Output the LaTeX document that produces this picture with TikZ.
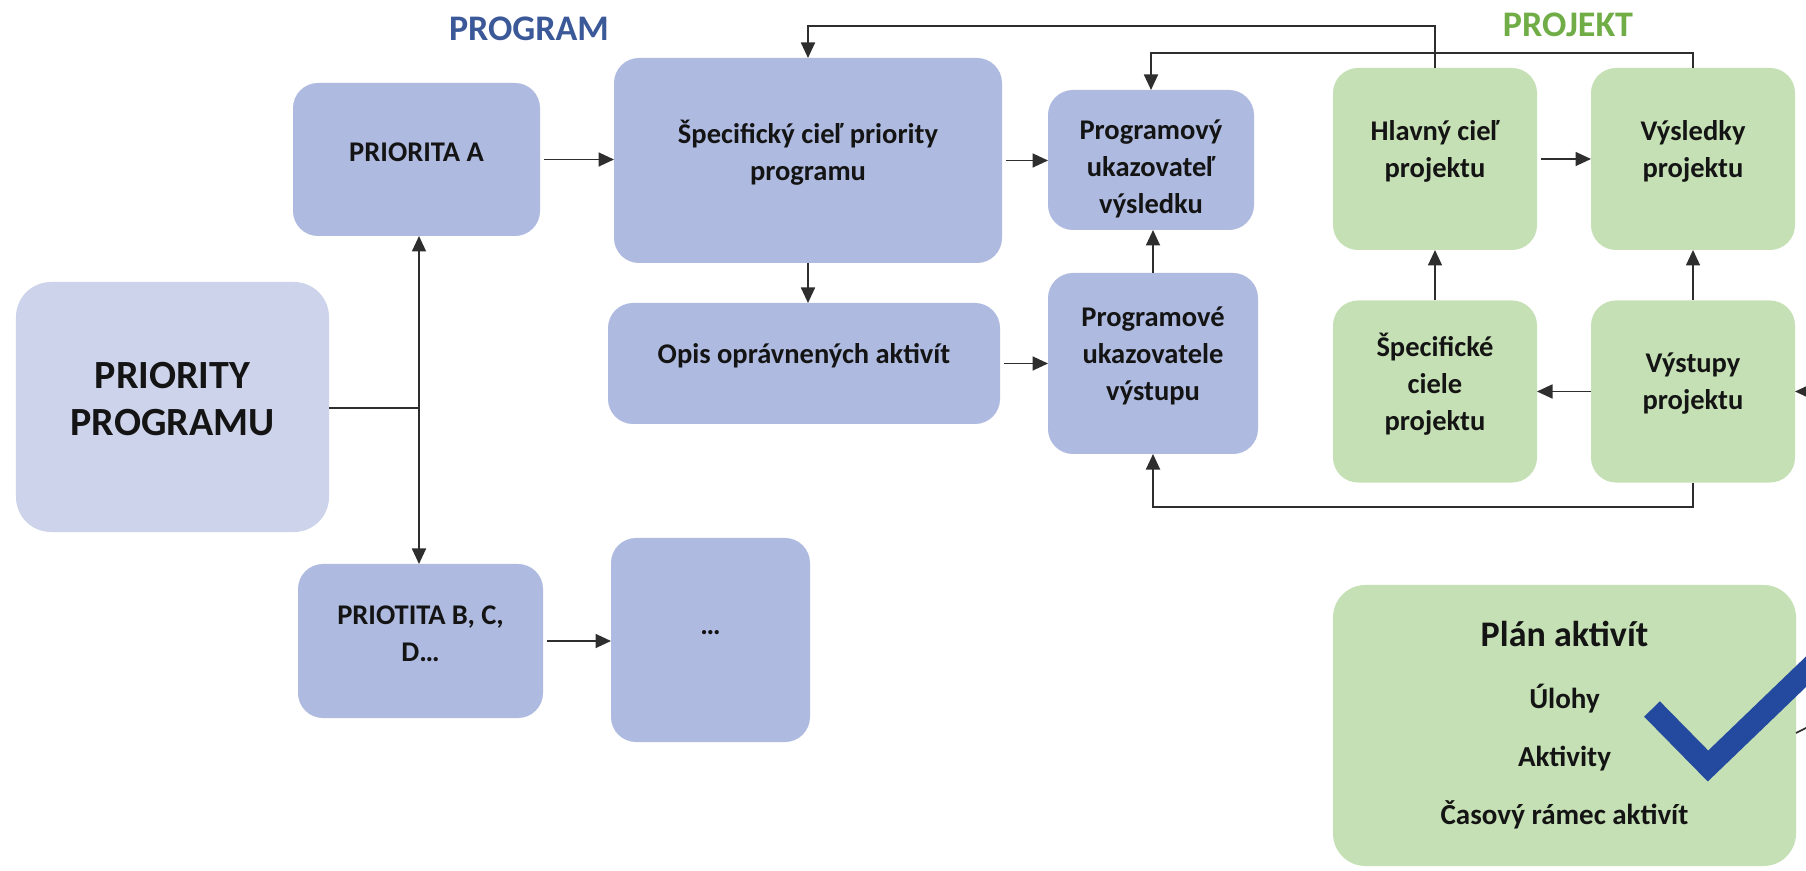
\documentclass[tikz,border=0pt]{standalone}
\usepackage{fontspec}
\setmainfont{Carlito}
\usetikzlibrary{arrows.meta}
\definecolor{pblue}{HTML}{AEBADF}
\definecolor{plight}{HTML}{CDD3EA}
\definecolor{pgreen}{HTML}{C5E0B4}
\definecolor{progc}{HTML}{3B5998}
\definecolor{projc}{HTML}{70AD47}
\definecolor{checkc}{HTML}{234A9F}
\definecolor{linec}{HTML}{2E2E2E}
\definecolor{txtc}{HTML}{141414}
\begin{document}
\begin{tikzpicture}[x=0.4pt,y=-0.4pt,
  box/.style={draw=none, rounded corners=10pt, inner sep=0pt, outer sep=0pt},
  bluebox/.style={box, fill=pblue},
  greenbox/.style={box, fill=pgreen, minimum width=81.6pt, minimum height=72.8pt},
  tx/.style={font=\bfseries\fontsize{11.4}{14.8}\selectfont, text=txtc, align=center, yshift=3pt},
  conn/.style={draw=linec, line width=0.7pt},
  arr/.style={conn, -{Triangle[length=6.2pt,width=5.6pt]}},
  head/.style={font=\bfseries\fontsize{14.4}{17}\selectfont}
]
\useasboundingbox (0,0) rectangle (1806,871);
\clip (0,0) rectangle (1806,871);
\fill[white] (0,0) rectangle (1806,871);

% headings
\node[head, text=progc] (lprog) at (529,29) {PROGRAM};
\node[head, text=projc] (lproj) at (1568,25) {PROJEKT};

% program boxes
\node[box, fill=plight, rounded corners=14pt, minimum width=125.2pt, minimum height=100pt,
  label={[tx, font=\bfseries\fontsize{16}{18.8}\selectfont]center:{PRIORITY\\PROGRAMU}}] (prio) at (172.5,407) {};
\node[bluebox, minimum width=98.8pt, minimum height=61.2pt,
  label={[tx]center:{PRIORITA A}}] (pa) at (416.5,159.5) {};
\node[bluebox, minimum width=98pt, minimum height=61.6pt,
  label={[tx]center:{PRIOTITA B, C,\\D…}}] (pbcd) at (420.5,641) {};
\node[bluebox, minimum width=79.6pt, minimum height=81.6pt,
  label={[tx]center:{…}}] (dots) at (710.5,640) {};
\node[bluebox, minimum width=155.2pt, minimum height=82pt,
  label={[tx]center:{Špecifický cieľ priority\\programu}}] (sc) at (808,160.5) {};
\node[bluebox, minimum width=156.8pt, minimum height=48.4pt,
  label={[tx]center:{Opis oprávnených aktivít}}] (opis) at (804,363.5) {};
\node[bluebox, minimum width=82.4pt, minimum height=56pt,
  label={[tx, yshift=-6.4pt]center:{Programový\\ukazovateľ\\výsledku}}] (puv) at (1151,160) {};
\node[bluebox, minimum width=84pt, minimum height=72.4pt,
  label={[tx]center:{Programové\\ukazovatele\\výstupu}}] (puo) at (1153,363.5) {};

% project boxes
\node[greenbox, label={[tx]center:{Hlavný cieľ\\projektu}}] (hc) at (1435,159) {};
\node[greenbox, label={[tx]center:{Výsledky\\projektu}}] (vysl) at (1693,159) {};
\node[greenbox, label={[tx]center:{Špecifické\\ciele\\projektu}}] (spc) at (1435,391.5) {};
\node[greenbox, label={[tx]center:{Výstupy\\projektu}}] (vyst) at (1693,391.5) {};
\node[greenbox, rounded corners=13pt, minimum width=185.2pt, minimum height=112.4pt,
  label={[tx, yshift=-3pt, font=\bfseries\fontsize{11.6}{23.2}\selectfont]center:{{\fontsize{14.4}{17}\selectfont Plán aktivít}\\[1.6pt]Úlohy\\Aktivity\\Časový rámec aktivít}}] (plan) at (1564.5,725.5) {};

% helper coordinates
\coordinate (j) at (419,408);
\coordinate (ybot) at (0,507);
\coordinate (ytop1) at (0,26);
\coordinate (ytop2) at (0,53);
\coordinate (offv) at (1840,391.5);
\coordinate (offp) at (1830,716);
\coordinate (ystub) at (0,733);

% connectors
\draw[conn] (j -| prio.east) -- (j);
\draw[arr] (j) -- (j |- pa.south);
\draw[arr] (j) -- (j |- pbcd.north);
\draw[arr, shorten <=1.5pt] (pa.east) -- (pa.east -| sc.west);
\draw[arr, shorten <=1.5pt] (pbcd.east) -- (pbcd.east -| dots.west);
\draw[arr, shorten <=1.5pt] (sc.east) -- (sc.east -| puv.west);
\draw[arr] (sc.south) -- (sc.south |- opis.north);
\draw[arr, shorten <=1.5pt] (opis.east) -- (opis.east -| puo.west);
\draw[arr] (puo.north) -- (puo.north |- puv.south);
\draw[arr, shorten <=1.5pt] (hc.east) -- (vysl.west);
\draw[arr] (spc.north) -- (hc.south);
\draw[arr] (vyst.north) -- (vysl.south);
\draw[arr] (vyst.west) -- (spc.east);
\draw[arr] (offv) -- (vyst.east);
\draw[arr] (vyst.south) -- (vyst.south |- ybot) -| (puo.south);
\draw[arr] (hc.north) -- (hc.north |- ytop1) -| (sc.north);
\draw[arr] (vysl.north) -- (vysl.north |- ytop2) -| (puv.north);
\draw[conn] (offp) -- (plan.east |- ystub);

% check mark
\draw[checkc, line width=8.8pt, line join=miter] (1652,709) -- (1708,766) -- (1840,639);
\end{tikzpicture}
\end{document}
